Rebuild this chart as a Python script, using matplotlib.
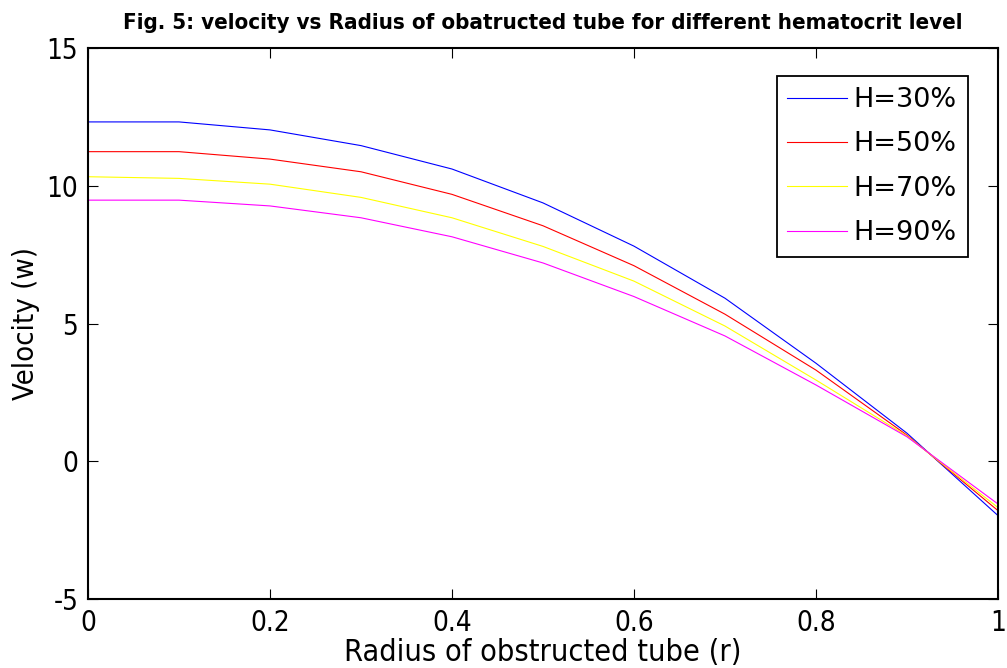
import numpy as np
import matplotlib
matplotlib.use("Agg")
import matplotlib.pyplot as plt

# ----- data -----
radius = [0.0, 0.1, 0.2, 0.3, 0.4, 0.5, 0.6, 0.7, 0.8, 0.9, 1.0]
vel_h30 = [12.32, 12.32, 12.03, 11.46, 10.61, 9.38, 7.81, 5.92, 3.56, 1.02, -1.97]
vel_h50 = [11.24, 11.24, 10.97, 10.51, 9.69, 8.55, 7.10, 5.34, 3.31, 0.95, -1.79]
vel_h70 = [10.33, 10.27, 10.06, 9.58, 8.84, 7.80, 6.54, 4.91, 2.95, 0.92, -1.68]
vel_h90 = [9.48, 9.48, 9.27, 8.84, 8.15, 7.20, 5.98, 4.55, 2.77, 0.89, -1.55]
labels = ["H=30%", "H=50%", "H=70%", "H=90%"]
colors = ["blue", "red", "yellow", "magenta"]

plt.rcParams["axes.unicode_minus"] = False
FONT = ["DejaVu Sans"]

fig = plt.figure(figsize=(10.07, 6.68), dpi=100)
ax = fig.add_axes([0.0874, 0.1033, 0.9036, 0.8247])

for y, lab, c in zip([vel_h30, vel_h50, vel_h70, vel_h90], labels, colors):
    ax.plot(radius, y, color=c, lw=0.8, label=lab)

ax.set_xlim(0, 1)
ax.set_ylim(-5, 15)
ax.set_xticks([0, 0.2, 0.4, 0.6, 0.8, 1])
ax.set_xticklabels(["0", "0.2", "0.4", "0.6", "0.8", "1"])
ax.set_yticks([-5, 0, 5, 10, 15])
ax.tick_params(direction="in", length=7, width=0.8, top=True, right=True,
               labelsize=20, pad=7)
for t in ax.get_xticklabels() + ax.get_yticklabels():
    t.set_family(FONT)
    t.set_stretch("condensed")
for s in ax.spines.values():
    s.set_linewidth(1.5)

ax.set_xlabel("Radius of obstructed tube (r)", fontsize=22, family=FONT,
              stretch="condensed", labelpad=1)
ax.set_ylabel("Velocity (w)", fontsize=21, family=FONT, stretch="condensed", labelpad=5)
ax.set_title("Fig. 5: velocity vs Radius of obatructed tube for different hematocrit level",
             fontsize=16, family=FONT, stretch="condensed", fontweight="bold", pad=14)

leg = ax.legend(loc="upper right", bbox_to_anchor=(0.967, 0.949), borderaxespad=0,
                fontsize=19.5, handlelength=2.2, handletextpad=0.25,
                fancybox=False, framealpha=1, edgecolor="black",
                borderpad=0.4, labelspacing=0.68)
leg.get_frame().set_linewidth(1.3)

fig.savefig("out.png", dpi=100)
